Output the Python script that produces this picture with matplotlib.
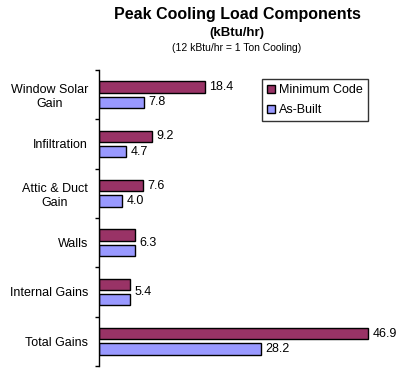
import matplotlib.pyplot as plt
import numpy as np

plt.rcParams['font.family'] = ['Liberation Sans', 'DejaVu Sans']

categories = ["Window Solar\nGain", "Infiltration", "Attic & Duct\nGain", "Walls",
              "Internal Gains", "Total Gains"]
min_code = [18.4, 9.2, 7.6, 6.3, 5.4, 46.9]
as_built = [7.8, 4.7, 4.0, 6.3, 5.4, 28.2]

c_min = "#993366"
c_asb = "#9999FF"

fig = plt.figure(figsize=(4.11, 3.71), dpi=100)
ax = fig.add_axes([99/411, 1 - 366/371, 287/411, 296/371])

y = np.arange(len(categories))
h = 0.23
off = 0.158
ax.barh(y - off, min_code, height=h, color=c_min, edgecolor="black", linewidth=1,
        label="Minimum Code")
ax.barh(y + off, as_built, height=h, color=c_asb, edgecolor="black", linewidth=1,
        label="As-Built")

for i in range(len(categories)):
    if min_code[i] == as_built[i]:
        ax.text(min_code[i] + 0.8, y[i], f"{min_code[i]:.1f}", va="center", ha="left", fontsize=9)
    else:
        ax.text(min_code[i] + 0.8, y[i] - off, f"{min_code[i]:.1f}", va="center", ha="left", fontsize=9)
        ax.text(as_built[i] + 0.8, y[i] + off, f"{as_built[i]:.1f}", va="center", ha="left", fontsize=9)

ax.set_xlim(0, 50)
ax.set_ylim(len(categories) - 0.5, -0.5)
ax.set_yticks(np.arange(-0.5, len(categories)), minor=False)
ax.set_yticklabels([])
ax.set_yticks(y, minor=True)
ax.set_yticklabels(categories, minor=True, fontsize=9, ha="right")
ax.tick_params(axis="y", which="major", length=3, direction="out", width=1)
ax.tick_params(axis="y", which="minor", length=0, pad=8)
ax.set_xticks([])
for s in ["top", "right", "bottom"]:
    ax.spines[s].set_visible(False)
ax.spines["left"].set_linewidth(1)

for lbl in ax.get_yticklabels(minor=True):
    lbl.set_multialignment("center")

leg = ax.legend(loc="upper left", bbox_to_anchor=((262 - 99) / 287, 1 - 9 / 296),
                fontsize=9, frameon=True, fancybox=False, edgecolor="black",
                handlelength=0.6, handleheight=0.6, handletextpad=0.35,
                borderpad=0.4, labelspacing=0.65, borderaxespad=0)
leg.get_frame().set_linewidth(1)

fig.text(237/411, 1 - 14/371, "Peak Cooling Load Components", ha="center", va="center",
         fontsize=11.5, fontweight="bold")
fig.text(237/411, 1 - 33/371, "(kBtu/hr)", ha="center", va="center",
         fontsize=9.5, fontweight="bold")
fig.text(237/411, 1 - 48/371, "(12 kBtu/hr = 1 Ton Cooling)", ha="center", va="center",
         fontsize=7.5)

fig.savefig("out.png", dpi=100)
